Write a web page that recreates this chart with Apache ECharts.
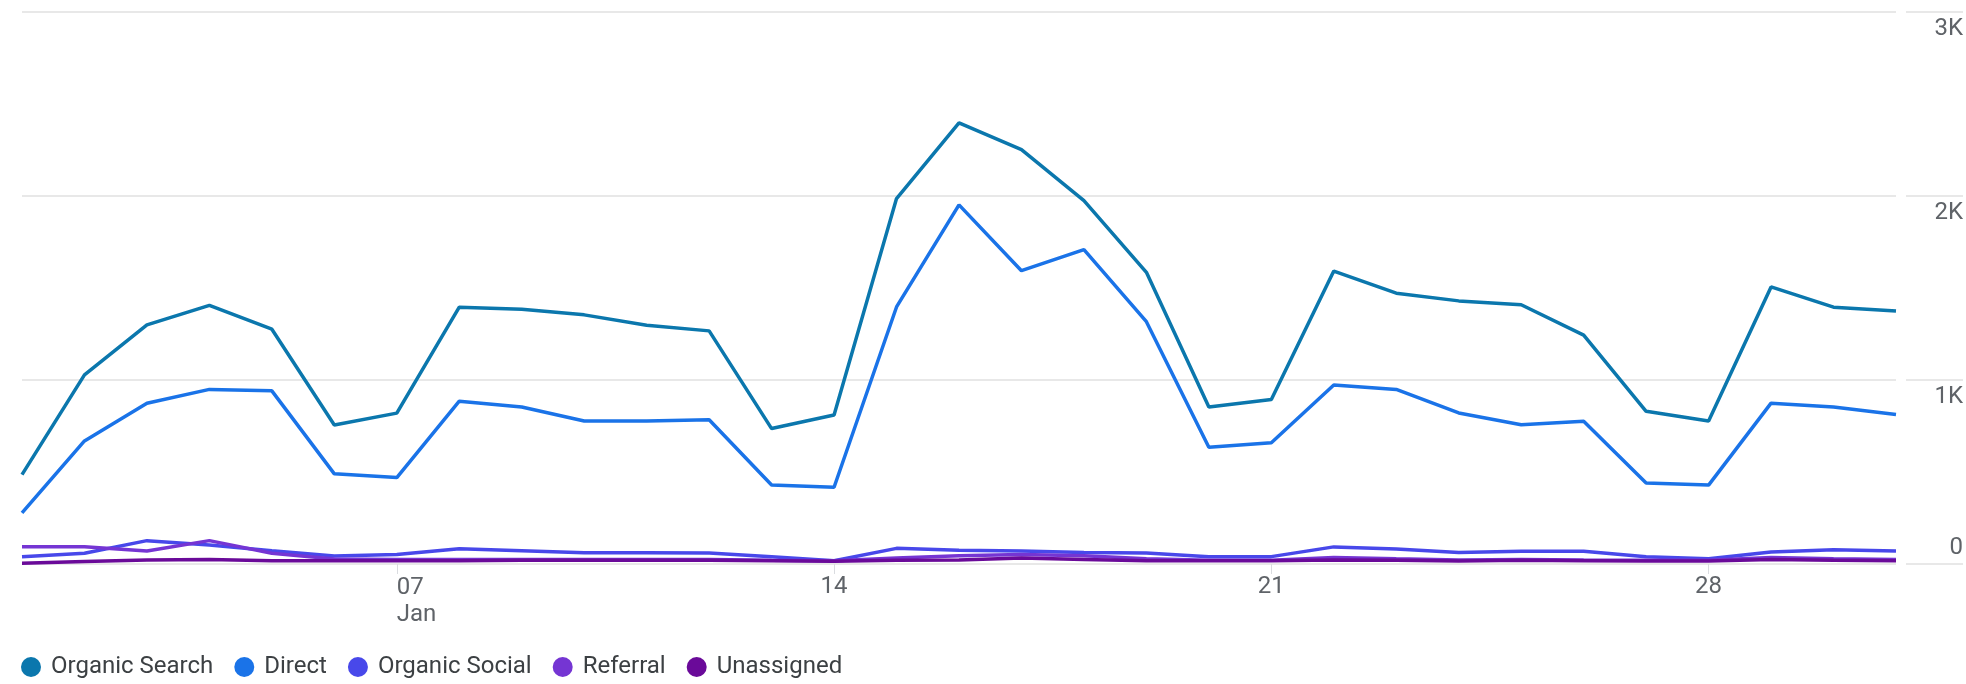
<!DOCTYPE html>
<html>
<head>
<meta charset="utf-8">
<script src="https://cdn.jsdelivr.net/npm/echarts@6/dist/echarts.min.js"></script>
<style>
  html, body { margin: 0; padding: 0; background: #fff; }
  #chart { width: 1966px; height: 684px; }
</style>
</head>
<body>
<div id="chart"></div>
<script>
// days of January
const days = ["01","02","03","04","05","06","07","08","09","10","11","12","13","14","15","16",
    "17","18","19","20","21","22","23","24","25","26","27","28","29","30","31"];

const seriesNames = ["Organic Search", "Direct", "Organic Social", "Referral", "Unassigned"];
const seriesColors = ["#0b77ad", "#1a73e8", "#4848ea", "#7535d3", "#6a0a99"];

const organicSearch = [486, 1028, 1300, 1406, 1276, 755, 820, 1396, 1385, 1354, 1298, 1267, 736, 810, 1986, 2398,
    2252, 1975, 1585, 853, 894, 1592, 1472, 1430, 1409, 1244, 830, 777, 1506, 1396, 1375];
const direct = [278, 669, 874, 949, 941, 490, 470, 885, 853, 777, 777, 784, 429, 417, 1397, 1952,
    1594, 1709, 1317, 635, 659, 973, 949, 821, 757, 776, 440, 429, 874, 853, 812];
const organicSocial = [40, 58, 127, 103, 72, 43, 52, 83, 72, 61, 61, 60, 40, 18, 85, 75,
    70, 62, 60, 40, 40, 93, 82, 62, 69, 69, 40, 28, 65, 78, 70];
const referral = [94, 94, 71, 127, 58, 27, 25, 25, 25, 25, 25, 25, 20, 18, 32, 45,
    52, 45, 28, 20, 20, 35, 28, 22, 25, 22, 20, 20, 35, 28, 25];
const unassigned = [4, 13, 22, 25, 18, 18, 18, 18, 20, 20, 20, 20, 18, 15, 20, 22,
    32, 25, 18, 18, 18, 22, 20, 16, 20, 18, 16, 16, 25, 20, 18];

const tickDays = [6, 13, 20, 27]; // 07, 14, 21, 28
const yTicks = { 0: "0", 1000: "1K", 2000: "2K", 3000: "3K" };

const allData = [organicSearch, direct, organicSocial, referral, unassigned];
const font = "Roboto";
const gridColor = "#e8e8e8";

var myChart = echarts.init(document.getElementById("chart"));

const option = {
    animation: false,
    grid: [
        { left: 22, right: 70, top: 12, bottom: 120 },
        { left: 1906, right: 0, top: 12, bottom: 120 }
    ],
    legend: {
        left: 21,
        top: 653,
        padding: 0,
        icon: "circle",
        itemWidth: 20,
        itemHeight: 20,
        itemGap: 21,
        textStyle: {
            fontFamily: font,
            fontSize: 24,
            color: "#3c4043",
            lineHeight: 28,
            padding: [0, 0, 0, 5]
        },
        data: seriesNames
    },
    xAxis: [
        {
            type: "category",
            gridIndex: 0,
            data: days,
            boundaryGap: false,
            axisLine: { show: false },
            axisTick: {
                show: true,
                length: 10,
                interval: function (idx) { return tickDays.includes(idx); },
                lineStyle: { color: "#dadce0", width: 1 }
            },
            axisLabel: {
                interval: function (idx) { return idx !== 6 && tickDays.includes(idx); },
                fontFamily: font,
                fontSize: 24,
                color: "#5f6368",
                margin: 11,
                align: "center"
            },
            splitLine: { show: false }
        },
        {
            // first label sits left-aligned on its tick with the month under it
            type: "category",
            gridIndex: 0,
            position: "bottom",
            data: days,
            boundaryGap: false,
            axisLine: { show: false },
            axisTick: { show: false },
            axisLabel: {
                interval: function (idx) { return idx === 6; },
                formatter: function (v) { return v + "\nJan"; },
                fontFamily: font,
                fontSize: 24,
                lineHeight: 27,
                color: "#5f6368",
                margin: 10,
                align: "left"
            },
            splitLine: { show: false }
        },
        { type: "value", gridIndex: 1, show: false, min: 0, max: 1 }
    ],
    yAxis: [
        {
            type: "value",
            gridIndex: 0,
            min: 0,
            max: 3000,
            interval: 1000,
            axisLine: { show: false },
            axisTick: { show: false },
            axisLabel: { show: false },
            splitLine: { lineStyle: { color: gridColor, width: 2 } }
        },
        {
            type: "value",
            gridIndex: 1,
            position: "right",
            min: 0,
            max: 3000,
            interval: 1000,
            axisLine: { show: false },
            axisTick: { show: false },
            axisLabel: {
                inside: true,
                margin: 0,
                align: "right",
                formatter: function (v) {
                    return v === 0 ? "{b|0}" : "{a|" + yTicks[v] + "}";
                },
                rich: {
                    a: { fontFamily: font, fontSize: 24, color: "#5f6368", padding: [33, 0, 0, 0] },
                    b: { fontFamily: font, fontSize: 24, color: "#5f6368", padding: [0, 0, 33, 0] }
                }
            },
            splitLine: { lineStyle: { color: gridColor, width: 2 } }
        }
    ],
    series: seriesNames.map(function (name, i) {
        return {
            name: name,
            type: "line",
            xAxisIndex: 0,
            yAxisIndex: 0,
            data: allData[i],
            showSymbol: false,
            symbol: "circle",
            color: seriesColors[i],
            lineStyle: { width: 3.5, color: seriesColors[i] }
        };
    })
};

myChart.setOption(option);
</script>
</body>
</html>
